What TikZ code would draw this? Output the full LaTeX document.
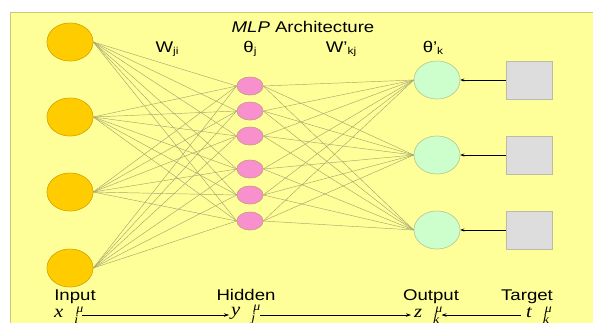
\documentclass[tikz,border=0pt]{standalone}
\usepackage{fontspec}
\setmainfont[FakeStretch=1.2]{Liberation Sans}
\newfontfamily\mserif[FakeStretch=1.15]{Liberation Serif}
\usetikzlibrary{arrows.meta,shapes.geometric}
\definecolor{bgyel}{HTML}{FFFF99}
\definecolor{bgedge}{HTML}{C8C87A}
\definecolor{infill}{HTML}{FFCC00}
\definecolor{indraw}{HTML}{D4A800}
\definecolor{hidfill}{HTML}{F890CE}
\definecolor{hiddraw}{HTML}{C8A080}
\definecolor{outfill}{HTML}{CCFFCC}
\definecolor{outdraw}{HTML}{B8C890}
\definecolor{tgfill}{HTML}{DDDDDD}
\definecolor{tgdraw}{HTML}{BBBBA8}
\definecolor{wire}{HTML}{A6A670}
\tikzset{
  inneur/.style={ellipse, minimum width=46pt, minimum height=38pt, inner sep=0pt, fill=infill, draw=indraw, line width=0.5pt},
  hidneur/.style={ellipse, minimum width=26pt, minimum height=18pt, inner sep=0pt, fill=hidfill, draw=hiddraw, line width=0.5pt},
  outneur/.style={ellipse, minimum width=46pt, minimum height=38pt, inner sep=0pt, fill=outfill, draw=outdraw, line width=0.5pt},
  tgbox/.style={rectangle, minimum width=46pt, minimum height=38pt, inner sep=0pt, fill=tgfill, draw=tgdraw, line width=0.6pt},
  wireline/.style={draw=wire, line width=0.45pt},
  lab/.style={font=\fontsize{15.5}{18}\selectfont, inner sep=0pt, anchor=base},
  mlab/.style={font=\fontsize{18}{20}\mserif\itshape, inner sep=0pt},
  flow/.style={-{Stealth[length=5pt,width=3.5pt]}, line width=0.7pt},
  tgarrow/.style={-{Stealth[length=4pt,width=3pt]}, line width=0.8pt},
}
\newcommand{\mathlab}[2]{#1\hspace{13pt}\raisebox{5pt}{\fontsize{12}{12}\selectfont μ}\hspace{-9pt}\raisebox{-6pt}{\fontsize{12}{12}\selectfont #2}}
\begin{document}
\begin{tikzpicture}[x=1pt,y=-1pt]
\useasboundingbox (0,0) rectangle (593,322);
\fill[white] (0,0) rectangle (593,322);
\fill[bgyel] (10,12) rectangle (600,330);
\draw[bgedge, line width=0.8pt] (10,330) -- (10,12) -- (600,12);
% nodes
\foreach \i/\y in {1/42,2/117,3/192,4/268} \node[inneur] (in\i) at (70,\y) {};
\foreach \j/\y in {1/86,2/111,3/136,4/169,5/195,6/221} \node[hidneur] (h\j) at (250,\y) {};
\foreach \k/\y in {1/80,2/155,3/230} {
  \node[outneur] (o\k) at (437,\y) {};
  \node[tgbox] (t\k) at (529,\y) {};
}
% wires
\foreach \i in {1,...,4} \foreach \j in {1,...,6} \draw[wireline] (in\i.east) -- (h\j.west);
\foreach \j in {1,...,6} \foreach \k in {1,2,3} \draw[wireline] (h\j.east) -- (o\k.west);
% redraw nodes on top of the wires
\foreach \i/\y in {1/42,2/117,3/192,4/268} \node[inneur] at (70,\y) {};
\foreach \j/\y in {1/86,2/111,3/136,4/169,5/195,6/221} \node[hidneur] at (250,\y) {};
\foreach \k/\y in {1/80,2/155,3/230} \node[outneur] at (437,\y) {};
\foreach \k in {1,2,3} \draw[tgarrow] (t\k.west) -- (o\k.east);
% labels
\node[lab] (title) at (303,32) {\itshape MLP\upshape\ Architecture};
\node[lab] (wji) at (167,52) {W\raisebox{-2.5pt}{\fontsize{10}{12}\selectfont ji}};
\node[lab] (thj) at (250,52) {θ\raisebox{-2.5pt}{\fontsize{10}{12}\selectfont j}};
\node[lab] (wkj) at (341,52) {W’\raisebox{-2.5pt}{\fontsize{10}{12}\selectfont kj}};
\node[lab] (thk) at (433,52) {θ’\raisebox{-2.5pt}{\fontsize{10}{12}\selectfont k}};
\node[lab] (linp) at (75,300) {Input};
\node[lab] (lhid) at (246,300) {Hidden};
\node[lab] (lout) at (431,300) {Output};
\node[lab] (ltgt) at (527,300) {Target};
\node[mlab, anchor=west] (xl) at (54,315) {\mathlab{x}{i}};
\node[mlab, anchor=west] (yl) at (231,315) {\mathlab{y}{j}};
\node[mlab, anchor=west] (zl) at (414,315) {\mathlab{z}{k}};
\node[mlab, anchor=west] (tl) at (526,315) {\mathlab{t}{k}};
\draw[flow, shorten <=4pt, shorten >=2pt] (xl.east) -- (yl.west);
\draw[flow, shorten <=5pt, shorten >=3pt] (yl.east) -- (zl.west);
\draw[flow, shorten <=5pt, shorten >=2pt] (tl.west) -- (zl.east);
\end{tikzpicture}
\end{document}
